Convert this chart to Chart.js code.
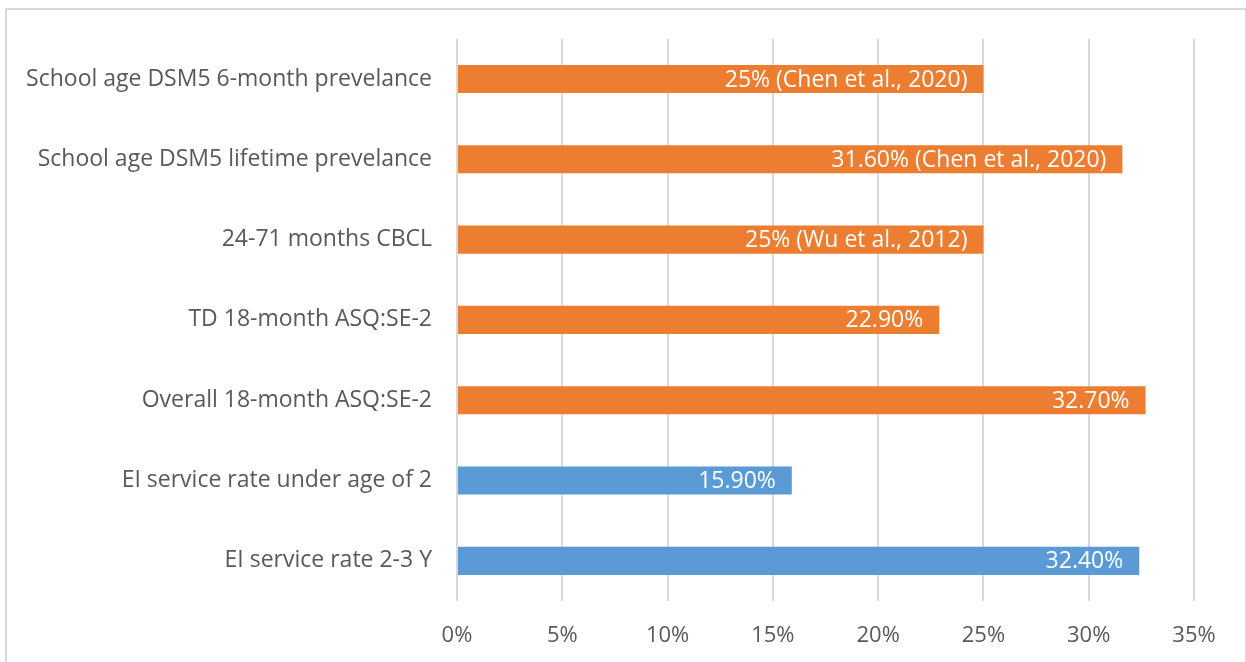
<!DOCTYPE html>
<html>
<head>
<meta charset="utf-8">
<script src="https://cdn.jsdelivr.net/npm/chart.js@4.4.1/dist/chart.umd.min.js"></script>
<style>
    html, body { margin: 0; padding: 0; background: #fff; }
    #frame {
        position: absolute; left: 5px; top: 8px; width: 1238px; height: 700px;
        border: 2px solid #d9d9d9; pointer-events: none;
    }
    #wrap { position: absolute; left: 0; top: 0; width: 1246px; height: 662px; }
</style>
</head>
<body>
<div id="wrap"><canvas id="prevChart"></canvas></div>
<div id="frame"></div>
<script>
// 項目
const categories = [
    'School age DSM5 6-month prevelance',
    'School age DSM5 lifetime prevelance',
    '24-71 months CBCL',
    'TD 18-month ASQ:SE-2',
    'Overall 18-month ASQ:SE-2',
    'EI service rate under age of 2',
    'EI service rate 2-3 Y'
];
// 値 (%)
const values = [25, 31.6, 25, 22.9, 32.7, 15.9, 32.4];
// バー内ラベル
const barLabels = [
    '25% (Chen et al., 2020)',
    '31.60% (Chen et al., 2020)',
    '25% (Wu et al., 2012)',
    '22.90%',
    '32.70%',
    '15.90%',
    '32.40%'
];
// 系統 (prevalence / EI service)
const groups = ['prev', 'prev', 'prev', 'prev', 'prev', 'ei', 'ei'];
const xTicks = [0, 5, 10, 15, 20, 25, 30, 35];

const FONT = "'Open Sans', 'Liberation Sans', sans-serif";
const groupColor = { prev: '#ED7D31', ei: '#5B9BD5' };

// バーの中にラベルを描画
const barLabelPlugin = {
    id: 'barLabels',
    afterDatasetsDraw(chart) {
        const ctx = chart.ctx;
        const meta = chart.getDatasetMeta(0);
        ctx.save();
        ctx.fillStyle = '#ffffff';
        ctx.font = '23px ' + FONT;
        ctx.textAlign = 'right';
        ctx.textBaseline = 'middle';
        meta.data.forEach((bar, i) => {
            ctx.fillText(barLabels[i], bar.x - 16, bar.y + 1);
        });
        ctx.restore();
    }
};

const ctx = document.getElementById('prevChart').getContext('2d');
new Chart(ctx, {
    type: 'bar',
    data: {
        labels: categories,
        datasets: [{
            data: values,
            backgroundColor: groups.map(g => groupColor[g]),
            borderWidth: 0,
            barPercentage: 0.35,
            categoryPercentage: 1.0
        }]
    },
    options: {
        indexAxis: 'y',
        responsive: true,
        maintainAspectRatio: false,
        animation: false,
        layout: { padding: { top: 37, right: 52, left: 0, bottom: 0 } },
        scales: {
            x: {
                min: 0,
                max: 35,
                afterFit: (s) => { s.height = 61; },
                afterBuildTicks: (s) => { s.ticks = xTicks.map(v => ({ value: v })); },
                ticks: {
                    padding: 22,
                    color: '#595959',
                    font: { family: FONT, size: 22 },
                    callback: (v) => v + '%'
                },
                grid: { color: '#d9d9d9', lineWidth: 2, drawTicks: false },
                border: { display: false }
            },
            y: {
                afterFit: (s) => { s.width = 457; },
                ticks: {
                    padding: 25,
                    color: '#595959',
                    font: { family: FONT, size: 23 }
                },
                grid: { display: false, drawTicks: false },
                border: { display: false }
            }
        },
        plugins: {
            legend: { display: false },
            tooltip: { enabled: false }
        }
    },
    plugins: [barLabelPlugin]
});
</script>
</body>
</html>
